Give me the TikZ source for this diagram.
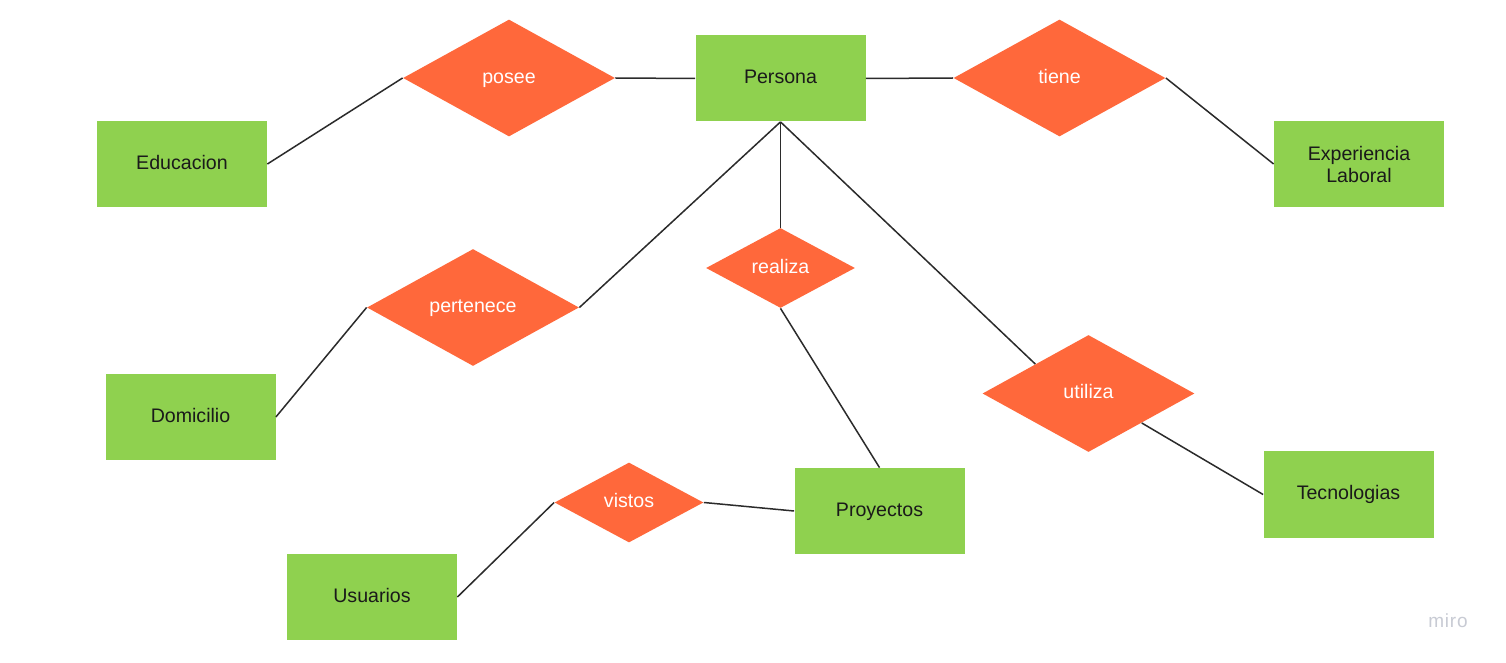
\documentclass[tikz,border=0pt]{standalone}
\usepackage{fontspec}
\setmainfont{Liberation Sans}
\usetikzlibrary{shapes.geometric}
\definecolor{entgreen}{HTML}{8FD14F}
\definecolor{relorange}{HTML}{FF683B}
\definecolor{linegray}{HTML}{2B2B2B}
\definecolor{txtdark}{HTML}{1A1A1A}
\definecolor{logogray}{HTML}{C8CBD4}
\begin{document}
\begin{tikzpicture}[x=0.5pt,y=-0.5pt,
  basefont/.style={font=\fontsize{9.8}{11}\selectfont},
  entity/.style={rectangle, fill=entgreen, draw=none, minimum width=85pt, minimum height=43pt,
    inner sep=0pt, text=txtdark, basefont, align=center},
  oneline/.style={text height=7.2pt, text depth=2pt},
  relbig/.style={diamond, fill=relorange, draw=none, minimum width=106pt, minimum height=58.5pt,
    inner sep=0pt, text=white, basefont, oneline},
  relsmall/.style={diamond, fill=relorange, draw=none, minimum width=74.5pt, minimum height=40pt,
    inner sep=0pt, text=white, basefont, oneline},
  conn/.style={draw=linegray, line width=0.75pt}]
\useasboundingbox[fill=white] (0,0) rectangle (1506,663);
% entities
\node[entity, oneline] (persona) at (780.5,78.5) {Persona};
\node[entity, oneline] (educ) at (182,164) {Educacion};
\node[entity] (exp) at (1359,164) {Experiencia\\Laboral};
\node[entity, oneline] (domi) at (190.5,417) {Domicilio};
\node[entity, oneline] (proy) at (879.5,511) {Proyectos};
\node[entity, oneline] (usu) at (372,597) {Usuarios};
\node[entity, oneline] (tec) at (1348.5,494.5) {Tecnologias};
% relations
\node[relbig] (posee) at (509,78) {posee};
\node[relbig] (tiene) at (1059.5,78) {tiene};
\node[relbig] (pert) at (473,307.5) {pertenece};
\node[relsmall] (real) at (780.5,268) {realiza};
\node[relbig] (util) at (1088.5,393.5) {utiliza};
\node[relsmall] (vist) at (629,502.5) {vistos};
% connectors
\draw[conn] (posee.east) -- (persona.west);
\draw[conn] (educ.east) -- (posee.west);
\draw[conn] (persona.east) -- (tiene.west);
\draw[conn] (tiene.east) -- (exp.west);
\draw[conn] (persona.south) -- (pert.east);
\draw[conn] (persona.south) -- (real.north);
\draw[conn] (persona.south) -- (util.north west);
\draw[conn] (pert.west) -- (domi.east);
\draw[conn] (real.south) -- (proy.north);
\draw[conn] (util.south east) -- (tec.west);
\draw[conn] (vist.east) -- (proy.west);
\draw[conn] (vist.west) -- (usu.east);
% logo
\node[text=logogray, font=\fontsize{9.5}{10}\selectfont, inner sep=0pt] (logo) at (1448,621) {m\hspace{0.4pt}i\hspace{0.4pt}r\hspace{0.4pt}o};
\end{tikzpicture}
\end{document}
